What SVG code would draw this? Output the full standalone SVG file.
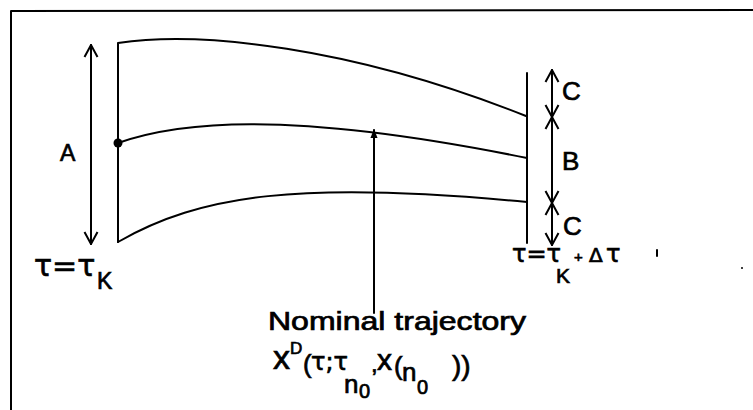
<svg xmlns="http://www.w3.org/2000/svg" width="753" height="410" viewBox="0 0 753 410">
<style>
.ln{fill:none;stroke:#000;stroke-width:2;stroke-linecap:round;stroke-linejoin:round}
.t{font-family:"DejaVu Sans","Liberation Sans",sans-serif;fill:#000;stroke:#000;stroke-width:0.7}
.s{font-family:"Liberation Sans","DejaVu Sans",sans-serif;fill:#000;stroke:#000;stroke-width:0.7}
</style>
<defs>
<marker id="ah" viewBox="0 0 14 16" refX="13" refY="8" markerWidth="14" markerHeight="16" orient="auto-start-reverse" markerUnits="userSpaceOnUse">
<path d="M1,1.5 L13,8 L1,14.5" fill="none" stroke="#000" stroke-width="2"/>
</marker>
<marker id="sm" viewBox="0 0 10 10" refX="9" refY="5" markerWidth="9" markerHeight="9" orient="auto" markerUnits="userSpaceOnUse">
<path d="M0,1 L10,5 L0,9 Z" fill="#000"/>
</marker>
</defs>
<rect width="753" height="410" fill="#fff"/>
<g id="frame"><path class="ln" d="M11,410 L11,11 L753,10"/></g>
<g id="tube">
<path class="ln" d="M118,242 L118,43 C200,31 350,46 526,116"/>
<path class="ln" d="M527,73 L527,243"/>
<path class="ln" d="M118,143 C175,123 280,108 527,158"/>
<path class="ln" d="M118,242 C200,195 300,180 527,202"/>
<circle cx="118" cy="143" r="4.5" fill="#000"/>
</g>
<g id="connectors">
<line class="ln" x1="91" y1="45" x2="91" y2="244" marker-start="url(#ah)" marker-end="url(#ah)"/>
<line class="ln" x1="552" y1="70" x2="552" y2="117" marker-start="url(#ah)" marker-end="url(#ah)"/>
<line class="ln" x1="552" y1="117" x2="552" y2="203" marker-start="url(#ah)" marker-end="url(#ah)"/>
<line class="ln" x1="552" y1="203" x2="552" y2="245" marker-start="url(#ah)" marker-end="url(#ah)"/>
<line class="ln" x1="374" y1="313" x2="374" y2="130" marker-end="url(#sm)" stroke-width="1.8"/>
</g>
<g id="labels">
<text class="s" x="60" y="161" font-size="23">A</text>
<text class="s" x="562" y="100" font-size="26">C</text>
<text class="s" x="562" y="170" font-size="26">B</text>
<text class="s" x="563" y="235" font-size="26">C</text>
<text class="t" x="34" y="276" font-size="30">τ=τ</text>
<text class="s" x="97" y="289" font-size="23">K</text>
<text class="t" x="512" y="262" font-size="24">τ=τ</text>
<text class="s" x="556" y="283" font-size="21">K</text>
<text class="s" x="574" y="262" font-size="15">+</text>
<text class="t" x="589" y="262" font-size="20">Δ</text>
<text class="t" x="606" y="262" font-size="24">τ</text>
<text class="s" x="268" y="330" font-size="25" textLength="258" lengthAdjust="spacingAndGlyphs">Nominal trajectory</text>
<text class="s" x="273" y="369" font-size="34">x</text>
<text class="s" x="290" y="354" font-size="17">D</text>
<text class="s" x="303" y="373" font-size="26">(</text>
<text class="t" x="311" y="370" font-size="24">τ;τ</text>
<text class="s" x="344" y="393" font-size="26">n</text>
<text class="s" x="359" y="398" font-size="20">0</text>
<text class="s" x="371" y="372" font-size="24">,</text>
<text class="s" x="377" y="370" font-size="30">x</text>
<text class="s" x="394" y="375" font-size="26">(</text>
<text class="s" x="402" y="381" font-size="26">n</text>
<text class="s" x="417" y="394" font-size="20">0</text>
<text class="s" x="452" y="375" font-size="28">))</text>
</g>
<g id="marks">
<line class="ln" x1="657" y1="250" x2="657" y2="256" stroke-width="1.5"/>
<circle cx="742" cy="268" r="1" fill="#000"/>
</g>
</svg>
